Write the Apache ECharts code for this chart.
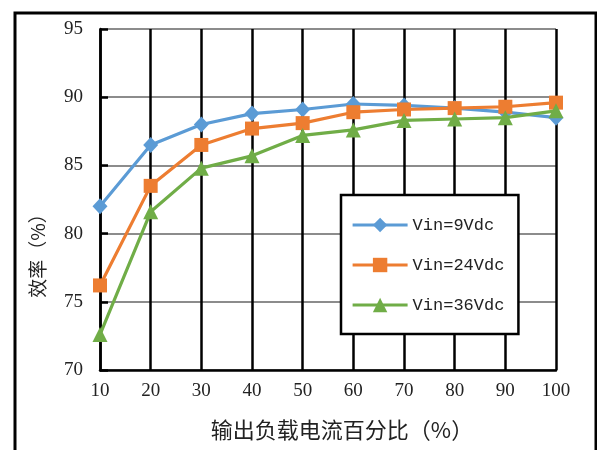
<!DOCTYPE html>
<html>
<head>
<meta charset="utf-8">
<script src="https://cdn.jsdelivr.net/npm/echarts@6/dist/echarts.min.js"></script>
<style>html,body{margin:0;padding:0;background:#fff;}#c{width:597px;height:450px;}</style>
</head>
<body>
<div id="c"></div>
<script>
var loads = [10, 20, 30, 40, 50, 60, 70, 80, 90, 100];
var vin9 = [82.0, 86.5, 88.0, 88.8, 89.1, 89.5, 89.4, 89.2, 88.9, 88.5];
var vin24 = [76.2, 83.5, 86.5, 87.7, 88.1, 88.9, 89.1, 89.2, 89.3, 89.6];
var vin36 = [72.6, 81.6, 84.8, 85.7, 87.2, 87.6, 88.3, 88.4, 88.5, 89.0];
var seriesNames = ['Vin=9Vdc', 'Vin=24Vdc', 'Vin=36Vdc'];
var xTitle = '输出负载电流百分比（%）';
var yTitle = '效率（%）';

function pairs(arr) { return loads.map(function (x, i) { return [x, arr[i]]; }); }

var chart = echarts.init(document.getElementById('c'));
var serifFont = '"Liberation Serif", "DejaVu Serif", serif';
chart.setOption({
  animation: false,
  backgroundColor: '#fff',
  grid: { left: 100, right: 41, top: 29, bottom: 80 },
  xAxis: {
    type: 'value', min: 10, max: 100, interval: 10, z: 3,
    axisLine: { show: true, lineStyle: { color: '#000', width: 2.5 } },
    axisTick: { show: false },
    axisLabel: { color: '#222', fontFamily: serifFont, fontSize: 19, margin: 12 },
    splitLine: { show: true, lineStyle: { color: '#000', width: 2.5 } }
  },
  yAxis: {
    type: 'value', min: 70, max: 95, interval: 5, z: 1,
    axisLine: { show: true, lineStyle: { color: '#000', width: 2.5 } },
    axisTick: { show: true, inside: true, length: 8, lineStyle: { color: '#000', width: 2.5 } },
    axisLabel: { color: '#222', fontFamily: serifFont, fontSize: 19, margin: 17 },
    splitLine: { show: true, lineStyle: { color: '#8c8c8c', width: 2 } }
  },
  legend: {
    orient: 'vertical', left: 341, top: 195,
    padding: [21, 14, 20, 10], itemGap: 22,
    itemWidth: 55, itemHeight: 18,
    backgroundColor: '#fff', borderColor: '#000', borderWidth: 2.5,
    lineStyle: { width: 3.2 },
    textStyle: { fontFamily: '"Liberation Mono", "DejaVu Sans Mono", monospace', fontSize: 17, color: '#222', lineHeight: 18 },
    data: seriesNames
  },
  series: [
    { name: seriesNames[0], type: 'line', data: pairs(vin9), symbol: 'diamond', symbolSize: [15, 16],
      itemStyle: { color: '#5B9BD5' }, lineStyle: { color: '#5B9BD5', width: 3.2 }, z: 5 },
    { name: seriesNames[1], type: 'line', data: pairs(vin24), symbol: 'rect', symbolSize: 14,
      itemStyle: { color: '#ED7D31' }, lineStyle: { color: '#ED7D31', width: 3.2 }, z: 6 },
    { name: seriesNames[2], type: 'line', data: pairs(vin36), symbol: 'triangle', symbolSize: 15,
      itemStyle: { color: '#70AD47' }, lineStyle: { color: '#70AD47', width: 3.2 }, z: 7 }
  ],
  graphic: [
    { type: 'rect', shape: { x: 15, y: 13, width: 581, height: 470 }, style: { fill: 'none', stroke: '#000', lineWidth: 3 }, silent: true, z: 100 },
    { type: 'text', x: 342, y: 430, style: { text: xTitle, fontFamily: '"Noto Sans CJK SC", sans-serif', fontSize: 22, fill: '#222', textAlign: 'center', textVerticalAlign: 'middle' }, z: 100 },
    { type: 'text', x: 38, y: 251, rotation: Math.PI / 2, style: { text: yTitle, fontFamily: '"Noto Sans CJK SC", sans-serif', fontSize: 19, fill: '#222', textAlign: 'center', textVerticalAlign: 'middle' }, z: 100 }
  ]
});
</script>
</body>
</html>
